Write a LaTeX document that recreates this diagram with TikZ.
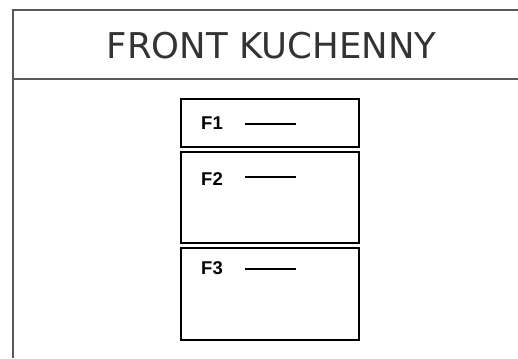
\documentclass[tikz,border=0pt]{standalone}
\usepackage{fontspec}
\setmainfont{DejaVu Sans}
\newfontfamily\lab{Liberation Sans}
\begin{document}
\begin{tikzpicture}[x=1pt,y=1pt,
  frameline/.style={draw=black!65,line width=2pt},
  drawer/.style={draw=black,line width=2pt,rectangle,minimum width=178pt,inner sep=0pt},
  flabel/.style={font=\lab\bfseries\fontsize{18.5}{20}\selectfont,anchor=west,inner sep=0pt},
  dashline/.style={draw=black,line width=2.2pt}]
\useasboundingbox (0,0) rectangle (518,358);
\coordinate (tl) at (13,348);
\coordinate (tr) at (518,348);
\coordinate (ml) at (13,278.5);
\coordinate (mr) at (518,278.5);
\coordinate (bl) at (13,0);
\draw[frameline] (tr) -- (tl) -- (bl);
\draw[frameline] (ml) -- (mr);
\node[anchor=base,inner sep=0pt,text=black!80,font=\fontsize{35.5}{40}\selectfont] (title) at (271.5,299) {FRONT KUCHENNY};
\node[drawer,minimum height=47.7pt] (b1) at (270,235.2) {};
\node[drawer,minimum height=91.3pt] (b2) at (270,160.7) {};
\node[drawer,minimum height=91.7pt] (b3) at (270,63.8) {};
\node[flabel] (f1) at (201,234.7) {F1};
\node[flabel] (f2) at (201,179.3) {F2};
\node[flabel] (f3) at (201,90) {F3};
\coordinate (l1a) at (245,234); \coordinate (l1b) at (296,234);
\coordinate (l2a) at (245,181.3); \coordinate (l2b) at (296,181.3);
\coordinate (l3a) at (245,88.7); \coordinate (l3b) at (296,88.7);
\draw[dashline] (l1a) -- (l1b);
\draw[dashline] (l2a) -- (l2b);
\draw[dashline] (l3a) -- (l3b);
\end{tikzpicture}
\end{document}
